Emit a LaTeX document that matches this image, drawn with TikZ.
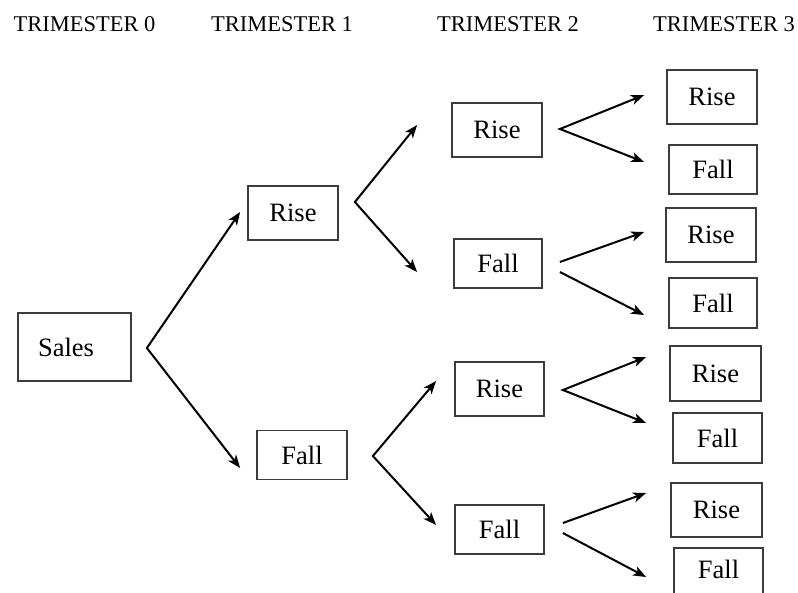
\documentclass[tikz,border=0pt]{standalone}
\usepackage{fontspec}
\setmainfont{Liberation Serif}
\usetikzlibrary{positioning, arrows.meta, calc}
\definecolor{boxgray}{RGB}{60, 60, 60}
\tikzset{
  head/.style={font=\fontsize{22.5}{26}\selectfont, inner sep=0pt},
  box/.style={rectangle, draw=boxgray, line width=1.8pt, fill=white,
    minimum width=89pt, minimum height=54pt, inner sep=2pt,
    font=\fontsize{26.5}{30}\selectfont},
  fallbox/.style={box, minimum height=49pt},
  branch/.style={{Stealth[length=13pt, width=10pt, inset=3.5pt]}-{Stealth[length=13pt, width=10pt, inset=3.5pt]},
    line width=2pt, black},
  twig/.style={-{Stealth[length=13pt, width=10pt, inset=3.5pt]}, line width=2pt, black},
}

\begin{document}
\begin{tikzpicture}[x=1pt, y=-1pt]
    \useasboundingbox (0,0) rectangle (798,592);
    \node[head] (h0) at (84.5,24.5) {TRIMESTER 0};
    \node[head] (h1) at (282,24.5) {TRIMESTER 1};
    \node[head] (h2) at (508,24.5) {TRIMESTER 2};
    \node[head] (h3) at (724,24.5) {TRIMESTER 3};
    \node[box, minimum width=113pt, minimum height=68pt] (s) at (74.5,347) {Sales\kern17pt};
    \node[box, minimum width=90pt] (r1) at (293,213) {Rise};
    \node[fallbox, minimum width=90pt] (f1) at (302,455) {Fall};
    \node[box, minimum width=90pt] (r2a) at (497,130) {Rise};
    \node[fallbox, minimum width=88pt] (f2a) at (498,263.5) {Fall};
    \node[box] (r2b) at (499.5,389) {Rise};
    \node[fallbox] (f2b) at (499.5,529.5) {Fall};
    \node[box, minimum width=90pt] (r3a) at (712,97) {Rise};
    \node[fallbox, minimum width=88pt] (f3a) at (713,169.5) {Fall};
    \node[box, minimum width=90pt] (r3b) at (711,235) {Rise};
    \node[fallbox, minimum width=88pt, minimum height=50pt] (f3b) at (713,303) {Fall};
    \node[box, minimum width=91pt, minimum height=55pt] (r3c) at (715.5,373.5) {Rise};
    \node[fallbox, minimum height=50pt] (f3c) at (717.5,438) {Fall};
    \node[box, minimum width=91pt] (r3d) at (716.5,510) {Rise};
    \node[fallbox, text depth=6pt] (f3d) at (718.5,572.5) {Fall};
    \draw[branch] ($(r1.west)+(-7,-1)$) -- ($(s.east)+(15,1)$) -- ($(f1.west)+(-16,13)$);
    \draw[branch] ($(r2a.west)+(-34,-5)$) -- ($(r1.east)+(16,-11)$) -- ($(f2a.west)+(-36,8.5)$);
    \draw[branch] ($(r2b.west)+(-18,-8)$) -- ($(f1.east)+(25,1)$) -- ($(f2b.west)+(-18,-4.5)$);
    \draw[branch] ($(r3a.west)+(-22,-2)$) -- ($(r2a.east)+(17,-1)$) -- ($(f3a.west)+(-24,-7.5)$);
    \draw[twig] ($(f2a.east)+(17,-1.5)$) -- ($(r3b.west)+(-21,-3)$);
    \draw[twig] ($(f2a.east)+(17,8.5)$) -- ($(f3b.west)+(-24,12)$);
    \draw[branch] ($(r3c.west)+(-23,-16.5)$) -- ($(r2b.east)+(18,1)$) -- ($(f3c.west)+(-26,-15)$);
    \draw[twig] ($(f2b.east)+(18,-6.5)$) -- ($(r3d.west)+(-24,-17)$);
    \draw[twig] ($(f2b.east)+(18,3.5)$) -- ($(f3d.west)+(-27,4.5)$);
  \end{tikzpicture}
\end{document}
